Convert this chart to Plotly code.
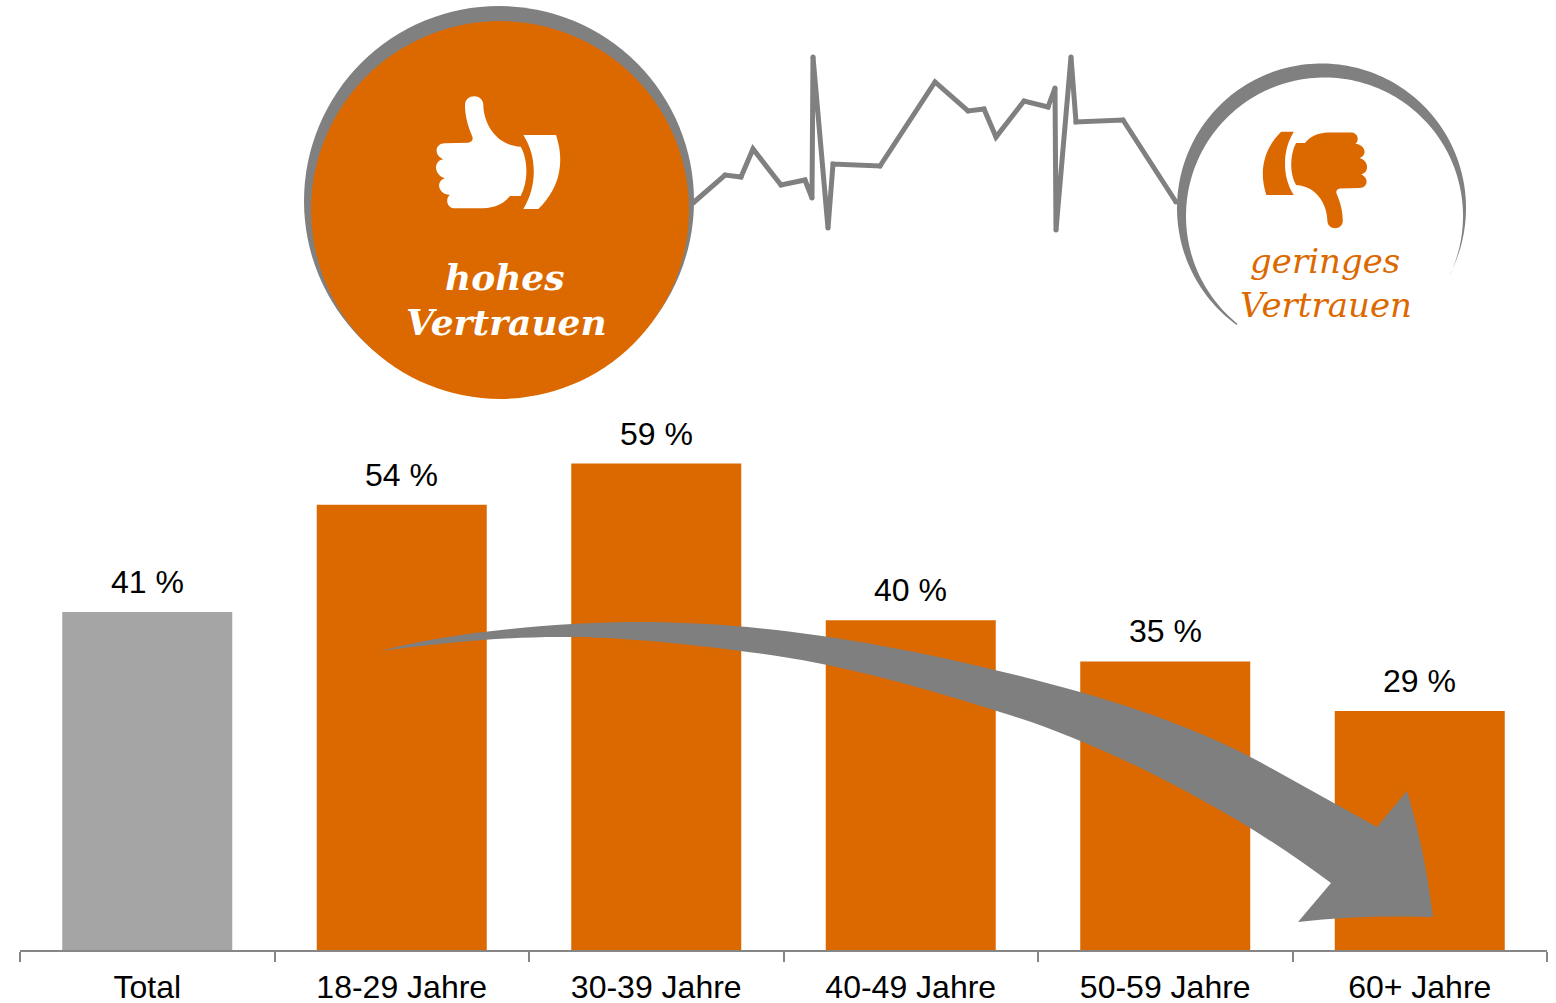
import numpy as np
import plotly.graph_objects as go

W, H = 1556, 1003
BASE = 950
AX_L, AX_R = 20, 1547

categories = ["Total", "18-29 Jahre", "30-39 Jahre", "40-49 Jahre", "50-59 Jahre", "60+ Jahre"]
values = [41, 54, 59, 40, 35, 29]
bar_colors = ["#A5A5A5", "#DC6900", "#DC6900", "#DC6900", "#DC6900", "#DC6900"]
ORANGE = "#DC6900"
GREY = "#808080"

ecg_x = [693, 725, 741, 753, 781, 805, 812, 813, 828, 833, 880, 935, 968, 984, 996, 1024, 1048, 1055, 1056, 1071, 1076, 1123, 1176]
ecg_y = [203, 175, 177, 149, 185, 180, 198, 57, 228, 164, 166, 82, 111, 109, 137, 101, 107, 88, 230, 57, 122, 120, 202]

PX_PER_UNIT = 8.245


def fx(x):
    return x / W


def fy(y):
    return 1 - y / H


def path_from(cmds):
    out = []
    for c in cmds:
        if isinstance(c, str):
            out.append(c)
        else:
            out.append(f"{fx(c[0]):.5f},{fy(c[1]):.5f}")
    return " ".join(out)


def parse(d, tf=lambda p: p):
    toks = d.replace(",", " ").split()
    cmds, i = [], 0
    while i < len(toks):
        t = toks[i]
        if t.isalpha():
            cmds.append(t)
            i += 1
        else:
            cmds.append(tf((float(t), float(toks[i + 1]))))
            i += 2
    return path_from(cmds)


def circle(cx, cy, r, color):
    return dict(type="circle", xref="paper", yref="paper", x0=fx(cx - r), x1=fx(cx + r),
                y0=fy(cy + r), y1=fy(cy - r), fillcolor=color, line_width=0, layer="above")


def filled(path, color):
    return dict(type="path", xref="paper", yref="paper", path=path, fillcolor=color,
                line_width=0, layer="above")


# thumb icon outline (zoom coordinates: 3x, origin 400,70)
HAND = ("M 195 105 C 195 70 250 70 250 105 C 250 150 280 225 362 230 C 385 270 385 335 362 378 "
        "L 330 378 C 305 410 270 415 235 415 L 165 415 C 140 415 135 385 150 375 "
        "C 115 372 105 335 135 325 C 100 315 100 272 130 268 C 100 255 105 220 135 220 "
        "L 205 218 C 220 215 220 205 215 195 C 205 170 195 140 195 105 Z")
CUFF = "M 370 195 L 468 195 C 490 260 490 345 415 417 L 370 417 C 412 350 412 260 370 195 Z"


def up_tf(p):
    return (400 + p[0] / 3, 70 + p[1] / 3)


def down_tf(p):
    return (1368 - 0.84 * (p[0] / 3 - 35), 228 - 0.855 * (p[1] / 3 - 26.5))


fig = go.Figure(go.Bar(
    x=categories, y=values, marker=dict(color=bar_colors, line_width=0), width=0.668,
    hoverinfo="skip",
))

arrow = ("M 380 651 C 450 632 560 622 640 622 C 760 622 900 642 1080 692 C 1150 712 1210 735 1260 762 "
         "L 1377 827 L 1407 791 Q 1425 850 1433 917 Q 1360 915 1298 922 L 1331 883 "
         "C 1290 853 1250 826 1200 799 C 1130 760 1060 730 1000 712 C 900 680 820 660 740 651 "
         "C 660 640 600 637 570 637 C 500 636 430 645 380 651 Z")

shapes = [filled(parse(arrow), "#7F7F7F")]

# ECG line, with round joins
ecg_path = "M " + " L ".join(f"{fx(x):.5f},{fy(y):.5f}" for x, y in zip(ecg_x, ecg_y))
shapes.append(dict(type="path", xref="paper", yref="paper", path=ecg_path,
                   line=dict(color=GREY, width=5), fillcolor="rgba(0,0,0,0)", layer="above"))
for x, y in zip(ecg_x, ecg_y):
    shapes.append(circle(x, y, 2.5, GREY))

# left badge
shapes.append(circle(499, 201, 195, GREY))
shapes.append(circle(500, 210, 189, ORANGE))

# right badge: crescent between two circles
ta = np.radians(np.linspace(234, -27, 160))
outer = [(1321.5 + 144.5 * np.cos(t), 208 - 144.5 * np.sin(t)) for t in ta]
tb = np.radians(np.linspace(-24.4, 231, 160))
inner = [(1324.5 + 138.5 * np.cos(t), 216 - 138.5 * np.sin(t)) for t in tb]
cres = "M " + " L ".join(f"{fx(x):.5f},{fy(y):.5f}" for x, y in outer + inner) + " Z"
shapes.append(filled(cres, GREY))

shapes.append(filled(parse(HAND, up_tf), "#FFFFFF"))
shapes.append(filled(parse(CUFF, up_tf), "#FFFFFF"))
shapes.append(filled(parse(HAND, down_tf), ORANGE))
shapes.append(filled(parse(CUFF, down_tf), ORANGE))


def note(text, x, y, color, size, bold):
    label = f"<b><i>{text}</i></b>" if bold else f"<i>{text}</i>"
    return dict(text=label, x=fx(x), y=fy(y), xref="paper", yref="paper", showarrow=False,
                xanchor="center", yanchor="middle",
                font=dict(family="DejaVu Serif", size=size, color=color))


annotations = [
    note("hohes", 505, 277, "#FFFFFF", 36, True),
    note("Vertrauen", 506, 322, "#FFFFFF", 36, True),
    note("geringes", 1325, 261, ORANGE, 34, False),
    note("Vertrauen", 1326, 305, ORANGE, 34, False),
]
for c, v in zip(categories, values):
    annotations.append(dict(text=f"{v} %", x=c, y=v, xref="x", yref="y", showarrow=False,
                            xanchor="center", yanchor="bottom", yshift=10,
                            font=dict(family="Liberation Sans", size=32, color="#000000")))

fig.update_layout(
    width=W, height=H, margin=dict(l=0, r=0, t=0, b=0), autosize=False,
    paper_bgcolor="#FFFFFF", plot_bgcolor="#FFFFFF", showlegend=False,
    shapes=shapes, annotations=annotations,
    xaxis=dict(domain=[AX_L / W, AX_R / W], range=[-0.5, 5.5], type="category",
               categoryorder="array", categoryarray=categories,
               showgrid=False, zeroline=False, showline=True, linecolor="#868686", linewidth=2,
               ticks="outside", tickson="boundaries", ticklen=10, tickwidth=2, tickcolor="#868686",
               ticklabelstandoff=8,
               tickfont=dict(family="Liberation Sans", size=32, color="#000000"), automargin=False),
    yaxis=dict(domain=[1 - BASE / H, 1], range=[0, BASE / PX_PER_UNIT], visible=False, fixedrange=True),
)

fig.write_html("out.html", config=dict(displayModeBar=False),
               post_script="document.body.style.margin='0';document.body.style.overflow='hidden';")
